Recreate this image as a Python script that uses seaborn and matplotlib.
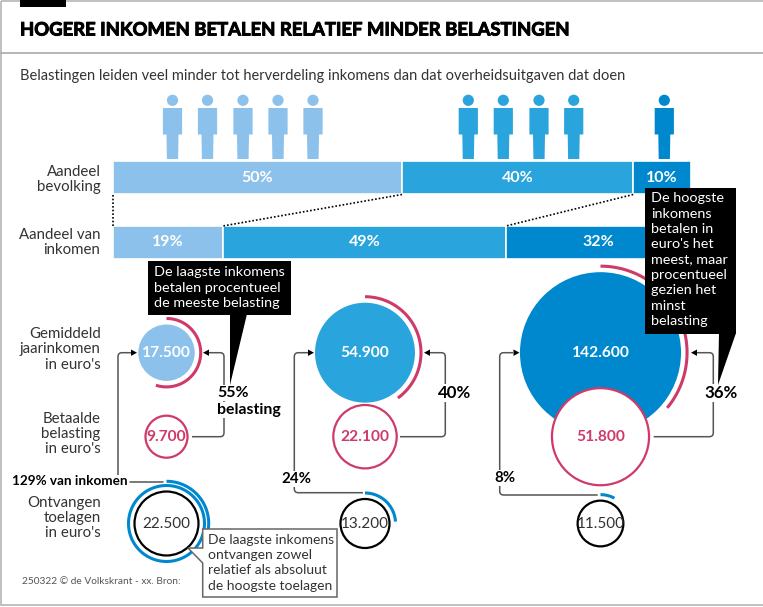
"""
Hogere inkomens betalen relatief minder belastingen
"""
##
# imports
import numpy as np
import pandas as pd
import seaborn as sns
import matplotlib
matplotlib.use('Agg')
import matplotlib.pyplot as plt
import matplotlib.patheffects as pe
from matplotlib.path import Path
from matplotlib.patches import Circle, PathPatch, Polygon, Rectangle

##
# data
bar_rows = ['Aandeel bevolking', 'Aandeel van inkomen']
population_share = [50, 40, 10]
income_share = [19, 49, 32]
persons = [5, 4, 1]
income = [17500, 54900, 142600]
tax = [9700, 22100, 51800]
grants = [22500, 13200, 11500]
tax_pct = [55, 40, 36]
grant_pct = [129, 24, 8]

income_labels = ['17.500', '54.900', '142.600']
tax_labels = ['9.700', '22.100', '51.800']
grant_labels = ['22.500', '13.200', '11.500']

##
# styles and layout (pixels of the 763x607 picture)
LIGHT, MID, DARK = '#8bc1ea', '#29a4dd', '#0088cf'
group_colors = [LIGHT, MID, DARK]
MAGENTA = '#cf3a68'
LINE = '#555555'
TEXT = '#333333'
FONT = 'Lato'

col_x = [166.5, 365, 600.5]
row_y = [352.7, 436.7, 523.5]
person_x = [[172.5, 207.5, 243, 278, 313], [468.3, 503.3, 539, 573.7], [664.3]]

AREA_SCALE = 0.0943  # marker points^2 per euro, same for all circles
R_SCALE = 0.0455     # radius^2 in px per euro

sns.set_theme(style='white')
plt.rcParams['font.family'] = [FONT, 'DejaVu Sans']

fig = plt.figure(figsize=(7.63, 6.07), dpi=100, facecolor='white')

##
# bars: own axes with a 0-100 percent scale
W, H = 763, 607
bar_ax = fig.add_axes([113 / W, 1 - 259 / H, 578 / W, 98 / H], zorder=1)
for row, shares in zip(bar_rows, [population_share, income_share]):
    lefts = np.cumsum([0] + shares[:-1])
    for share, left, color in zip(shares, lefts, group_colors):
        sns.barplot(x=[share], y=[row], left=[left], order=bar_rows, color=color, saturation=1,
                    width=0.508, edgecolor='white', linewidth=1.2, ax=bar_ax)
        bar_ax.bar_label(bar_ax.containers[-1], labels=[f'{share}%'], label_type='center',
                         color='white', fontsize=11.5, fontweight='bold', family=FONT)
bar_ax.set_xlim(0, 100)
bar_ax.set_ylim(1.254, -0.254)
bar_ax.axis('off')

##
# overlay axes in picture pixels
ax = fig.add_axes([0, 0, 1, 1], zorder=2)
ax.set_xlim(0, W)
ax.set_ylim(H, 0)
ax.axis('off')
ax.patch.set_alpha(0)


def txt(x, y, s, size=10.5, color=TEXT, weight='normal', ha='left', **kw):
    return ax.text(x, y, s, fontsize=size, color=color, fontweight=weight, ha=ha, va='center',
                   family=[FONT, 'DejaVu Sans'], **kw)


def stack(x, ys, lines, **kw):
    for y, line in zip(ys, lines):
        txt(x, y, line, **kw)


def connector(pts, tip=None):
    # polyline with rounded corners, optional arrow head at the end
    verts, codes = [pts[0]], [Path.MOVETO]
    r = 4
    for i in range(1, len(pts) - 1):
        p0, p1, p2 = map(np.array, pts[i - 1:i + 2])
        a = p1 - r * (p1 - p0) / np.linalg.norm(p1 - p0)
        b = p1 + r * (p2 - p1) / np.linalg.norm(p2 - p1)
        verts += [a, p1, b]
        codes += [Path.LINETO, Path.CURVE3, Path.CURVE3]
    verts.append(pts[-1])
    codes.append(Path.LINETO)
    ax.add_patch(PathPatch(Path(verts, codes), fill=False, edgecolor=LINE, lw=1.1, zorder=3))
    if tip is not None:
        d = 1 if tip > pts[-1][0] else -1
        y = pts[-1][1]
        ax.add_patch(Polygon([(tip, y), (tip - d * 6, y - 3.2), (tip - d * 6, y + 3.2)],
                             color='black', lw=0, zorder=3))


def arc(cx, cy, radius, start, stop, color):
    # clockwise from the top, angles as a fraction of a full circle
    t = np.linspace(start, stop, 100) * 2 * np.pi
    ax.plot(cx + radius * np.sin(t), cy - radius * np.cos(t), color=color, lw=2.2,
            solid_capstyle='butt', zorder=2)


##
# frame, title, subtitle
ax.add_patch(Rectangle((1, 0.5), 770, 604.5, fill=False, edgecolor='#b5b5b5', lw=1.2))
ax.add_patch(Rectangle((20, 0), 46, 7, color='black', lw=0))
ax.plot([1, W], [52.5, 52.5], color='#aaaaaa', lw=1.2)
title = txt(20, 30, 'HOGERE INKOMEN BETALEN RELATIEF MINDER BELASTINGEN', size=13.3, color='black', weight='bold')
title.set_path_effects([pe.withStroke(linewidth=0.7, foreground='black')])
txt(20, 76, 'Belastingen leiden veel minder tot herverdeling inkomens dan dat overheidsuitgaven dat doen', size=10.5)

##
# people
for n, xs, color in zip(persons, person_x, group_colors):
    for x in xs[:n]:
        ax.add_patch(Circle((x, 100.3), 5.6, color=color, lw=0))
        ax.add_patch(Polygon([(x - 9.6, 108), (x + 9.6, 108), (x + 9.6, 134.5), (x + 6, 134.5), (x + 5.6, 159),
                              (x - 5.6, 159), (x - 6, 134.5), (x - 9.6, 134.5)], color=color, lw=0))

##
# dotted lines between the bars
bar_px = 578 / 100
top_edges = 113 + bar_px * np.cumsum([0] + population_share[:-1])
low_edges = 113 + bar_px * np.cumsum([0] + income_share[:-1])
for x0, x1 in zip(top_edges, low_edges):
    ax.plot([x0, x1], [194.5, 226], color='black', lw=1.2, linestyle=(0, (1, 1.2)))

##
# row labels
stack(100.5, [172, 187], ['Aandeel', 'bevolking'], ha='right', size=10.8)
stack(100.5, [235, 250], ['Aandeel van', 'inkomen'], ha='right', size=10.8)
stack(100.5, [334, 349.5, 365], ['Gemiddeld', 'jaarinkomen', "in euro's"], ha='right', size=10.8)
stack(100.5, [419, 434, 449], ['Betaalde', 'belasting', "in euro's"], ha='right', size=10.8)
stack(100.5, [503, 518, 533], ['Ontvangen', 'toelagen', "in euro's"], ha='right', size=10.8)

##
# connectors
connector([(192, row_y[1]), (224, row_y[1]), (224, row_y[0]), (209, row_y[0])], tip=203)
connector([(118, 475), (118, row_y[0]), (131, row_y[0])], tip=137)
ax.plot([130, 163], [482, 482], color=LINE, lw=1.1, zorder=3)
connector([(400, row_y[1]), (445.3, row_y[1]), (445.3, row_y[0]), (430, row_y[0])], tip=424)
connector([(363, 492.7), (294.3, 492.7), (294.3, row_y[0]), (308, row_y[0])], tip=314)
connector([(653.7, row_y[1]), (713.3, row_y[1]), (713.3, row_y[0]), (697, row_y[0])], tip=691)
connector([(597.7, 495), (499.7, 495), (499.7, row_y[0]), (513, row_y[0])], tip=519.5)

##
# circles, area follows the amount through the seaborn size scale
size_norm = (0, 150000)
size_range = (0, AREA_SCALE * 150000)
income_df = pd.DataFrame({'x': col_x, 'y': row_y[0], 'euro': income, 'group': ['a', 'b', 'c']})
tax_df = pd.DataFrame({'x': col_x, 'y': row_y[1], 'euro': tax})
grant_df = pd.DataFrame({'x': col_x, 'y': row_y[2], 'euro': grants})
sns.scatterplot(data=income_df, x='x', y='y', size='euro', sizes=size_range, size_norm=size_norm, hue='group',
                palette=group_colors, linewidth=0, alpha=1, legend=False, ax=ax, zorder=4)
sns.scatterplot(data=tax_df, x='x', y='y', size='euro', sizes=size_range, size_norm=size_norm, color='white',
                edgecolor=MAGENTA, linewidth=1.6, alpha=1, legend=False, ax=ax, zorder=5)
sns.scatterplot(data=grant_df, x='x', y='y', size='euro', sizes=size_range, size_norm=size_norm, color='white',
                edgecolor='black', linewidth=1.6, alpha=1, legend=False, ax=ax, zorder=5)
ax.set_xlim(0, W)
ax.set_ylim(H, 0)
ax.set_xlabel('')
ax.set_ylabel('')

##
# rings: tax as share of income, grants as share of income
for x, euro, pct in zip(col_x, income, tax_pct):
    radius = np.sqrt(R_SCALE * euro) + 6
    arc(x, row_y[0], radius, 0, pct / 100, MAGENTA)
for x, euro, pct in zip(col_x, grants, grant_pct):
    radius = np.sqrt(R_SCALE * euro) + 6
    turns = pct / 100
    arc(x, row_y[2], radius, 0, min(turns, 1), DARK)
    if turns > 1:
        arc(x, row_y[2], radius + 4.2, 0, turns - 1, DARK)

##
# circle labels
for x, s in zip(col_x, income_labels):
    txt(x, row_y[0], s, size=11.2, color='white', weight='bold', ha='center', zorder=6)
for x, s in zip(col_x, tax_labels):
    txt(x, row_y[1], s, size=11.2, color=MAGENTA, weight='bold', ha='center', zorder=6)
for x, s in zip(col_x, grant_labels):
    txt(x, row_y[2], s, size=11, color=TEXT, ha='center', zorder=6)

##
# percentages next to the connectors
white_box = dict(facecolor='white', edgecolor='none', pad=1)
txt(217, 393, f'{tax_pct[0]}%', size=11.4, color='black', weight='bold', zorder=6, bbox=white_box)
txt(217, 410, 'belasting', size=11.4, color='black', weight='bold', zorder=6, bbox=white_box)
txt(454.5, 393, f'{tax_pct[1]}%', size=12.2, color='black', weight='bold', ha='center', zorder=6, bbox=white_box)
txt(721, 393, f'{tax_pct[2]}%', size=12.2, color='black', weight='bold', ha='center', zorder=6, bbox=white_box)
txt(128, 481, f'{grant_pct[0]}% van inkomen', size=9.7, color='black', weight='bold', ha='right', zorder=6)
txt(296.5, 479, f'{grant_pct[1]}%', size=10.8, color='black', weight='bold', ha='center', zorder=6, bbox=white_box)
txt(505, 478, f'{grant_pct[2]}%', size=10.8, color='black', weight='bold', ha='center', zorder=6, bbox=white_box)

##
# black call-outs
ax.add_patch(Rectangle((148, 261), 142.5, 54, color='black', lw=0, zorder=7))
ax.add_patch(Polygon([(230, 314), (247, 314), (230, 385)], color='black', lw=0, zorder=7))
stack(154, [272, 287.5, 303], ['De laagste inkomens', 'betalen procentueel', 'de meeste belasting'],
      color='white', size=10.4, zorder=8)

ax.add_patch(Rectangle((645.3, 187.7), 90.7, 146.3, color='black', lw=0, zorder=7))
ax.add_patch(Polygon([(719, 333), (736, 333), (718, 385)], color='black', lw=0, zorder=7))
stack(651, [198.5, 213.7, 229, 244.3, 259.6, 275, 290.3, 305.6, 321],
      ['De hoogste', 'inkomens', 'betalen in', "euro's het", 'meest, maar', 'procentueel', 'gezien het', 'minst',
       'belasting'], color='white', size=10.4, zorder=8)

##
# grey call-out and footer
ax.add_patch(Polygon([(202.7, 529), (337, 529), (337, 597), (202.7, 597), (202.7, 563), (188, 548), (202.7, 548)],
                     facecolor='white', edgecolor='#666666', lw=1.1, zorder=7))
stack(208, [540, 555, 570.5, 586], ['De laagste inkomens', 'ontvangen zowel', 'relatief als absoluut', 'de hoogste toelagen'],
      size=10, zorder=8)
txt(22, 581, '250322 © de Volkskrant - xx. Bron:', size=7.3, color='#555555')

fig.savefig('out.png', dpi=100)
